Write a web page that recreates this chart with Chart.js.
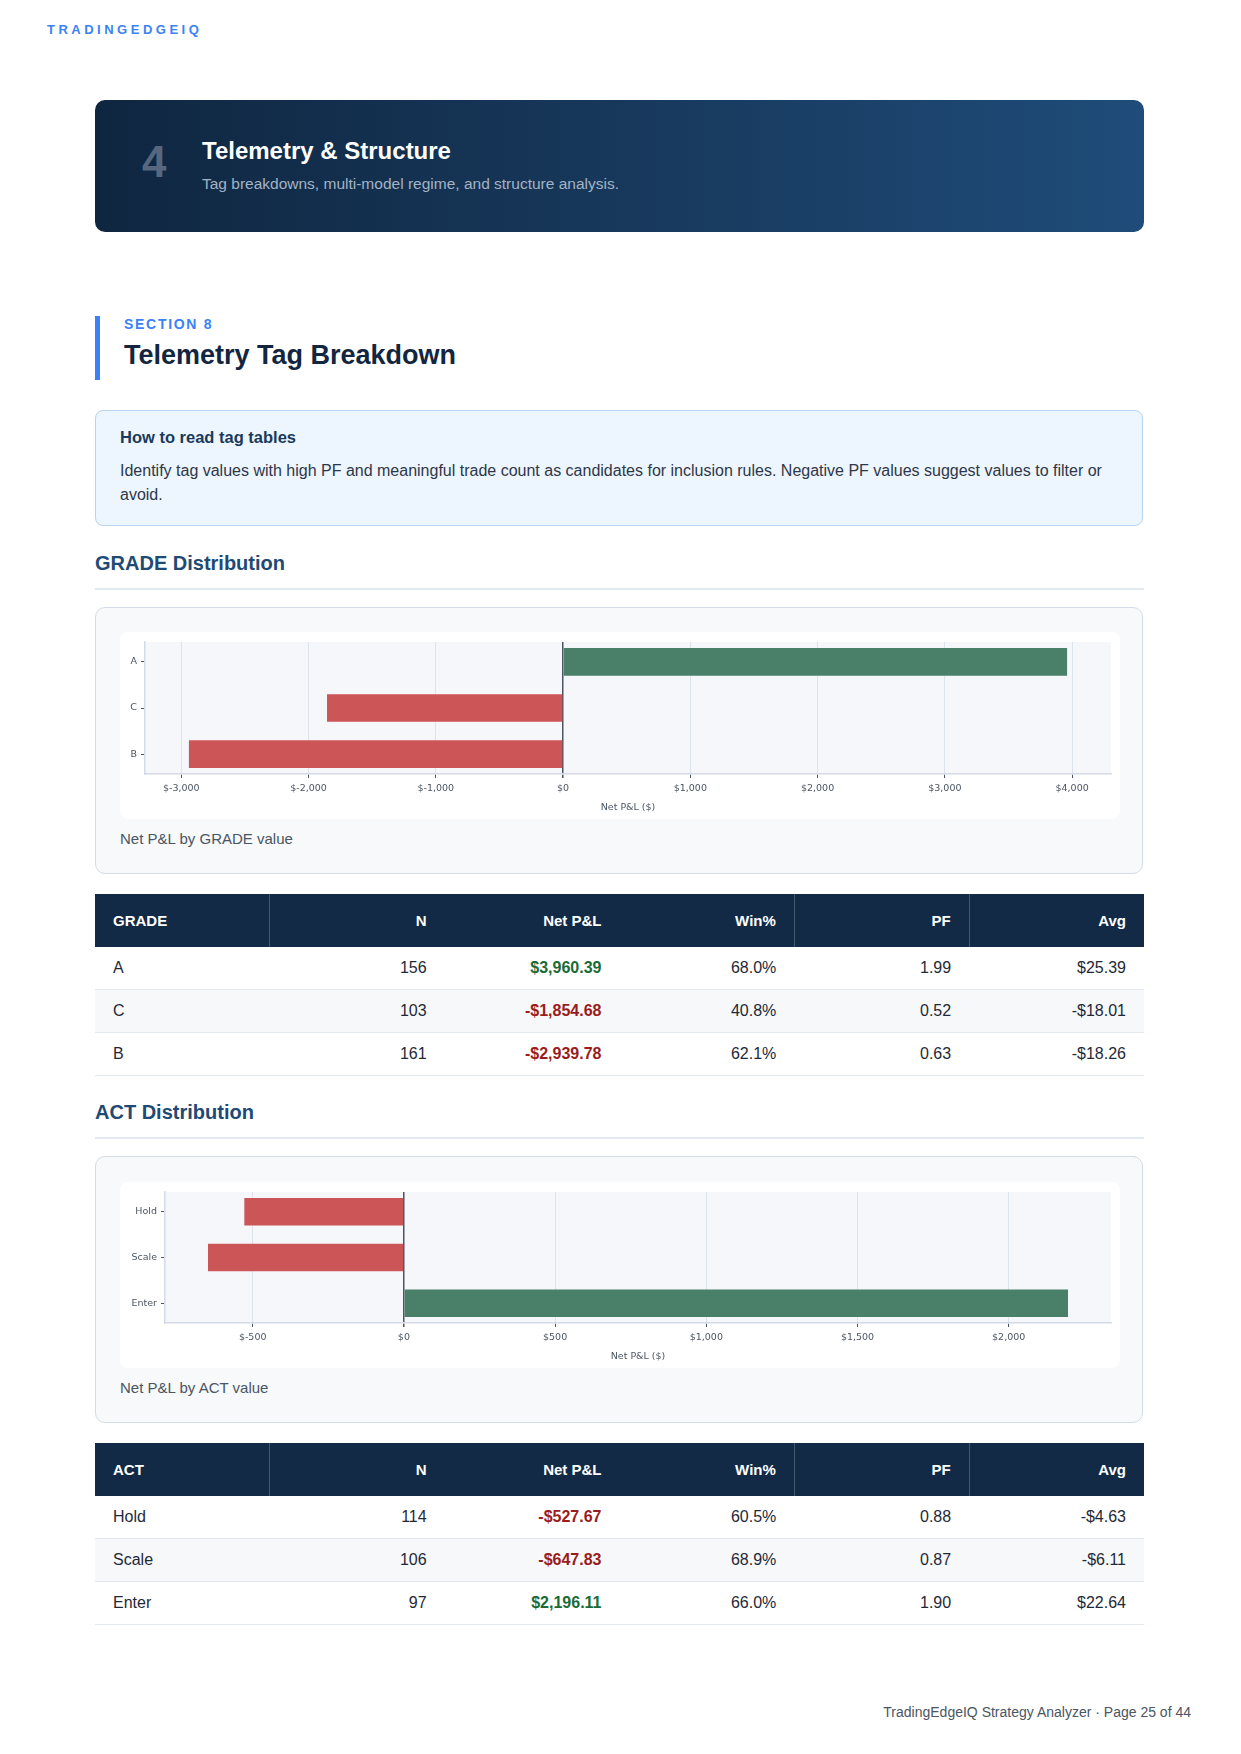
<!DOCTYPE html>
<html><head><meta charset="utf-8">
<script src="https://cdn.jsdelivr.net/npm/chart.js@4.4.1/dist/chart.umd.min.js"></script>
<style>
body{margin:0;width:1241px;height:1754px;position:relative;background:#fff;font-family:"Liberation Sans",Arial,Helvetica,sans-serif;overflow:hidden}
.abs{position:absolute;line-height:1;white-space:nowrap}
.brand{left:47px;top:22.5px;font-size:13px;font-weight:bold;letter-spacing:3.5px;color:#3b82f6}
.banner{position:absolute;left:95px;top:100px;width:1049px;height:132px;border-radius:10px;background:linear-gradient(90deg,#0f2640 0%,#183a5e 55%,#1f4c7a 100%)}
.num{left:142px;top:140px;font-size:44px;font-weight:bold;color:#56687f}
.btitle{left:202px;top:139px;font-size:24px;font-weight:bold;color:#fff}
.bsub{left:202px;top:176px;font-size:15.5px;color:#a3b3c6}
.sbar{position:absolute;left:95px;top:316px;width:5px;height:64px;background:#3b82f6}
.skick{left:124px;top:317px;font-size:14px;font-weight:bold;letter-spacing:1.7px;color:#3b82f6}
.stitle{left:124px;top:341.5px;font-size:27px;font-weight:bold;color:#132640}
.info{position:absolute;left:95px;top:410px;width:1046px;height:114px;background:#edf5fe;border:1.5px solid #b8d4f0;border-radius:8px}
.ihead{left:120px;top:429px;font-size:16.5px;font-weight:bold;color:#1a3a5c}
.ibody{position:absolute;left:120px;top:459px;width:1010px;font-size:16px;line-height:24px;color:#2d3748}
.h3{font-size:20px;font-weight:bold;color:#1e4a75}
.rule{position:absolute;left:95px;width:1049px;height:1.5px;background:#e3e9f0}
.card{position:absolute;left:95px;width:1046px;height:265px;background:#f7f9fb;border:1.5px solid #d3dce6;border-radius:10px}
.wbox{position:absolute;left:120px;width:1000px;background:#fff;border-radius:8px;overflow:hidden}
.cap{left:120px;font-size:15px;color:#4a5563}
table{position:absolute;left:95px;width:1049px;border-collapse:collapse;table-layout:fixed}
th{height:53px;padding:0 18px;background:#122a45;color:#fff;font-size:15px;font-weight:bold;text-align:right}
th:first-child{text-align:left}
th.dv{border-right:1px solid rgba(255,255,255,0.22)}
td{height:42px;padding:0 18px;font-size:16px;color:#1f2937;text-align:right;border-bottom:1.5px solid #e2e8f0}
td:first-child{text-align:left}
tr.alt td{background:#f6f8fa}
td.pos{color:#1a6b35;font-weight:bold}
td.neg{color:#9b1c1c;font-weight:bold}
.foot{right:50px;top:1705px;font-size:14px;color:#4b5563}
</style></head>
<body>
<div class="abs brand">TRADINGEDGEIQ</div>
<div class="banner"></div>
<div class="abs num">4</div>
<div class="abs btitle">Telemetry &amp; Structure</div>
<div class="abs bsub">Tag breakdowns, multi-model regime, and structure analysis.</div>

<div class="sbar"></div>
<div class="abs skick">SECTION 8</div>
<div class="abs stitle">Telemetry Tag Breakdown</div>

<div class="info"></div>
<div class="abs ihead">How to read tag tables</div>
<div class="ibody">Identify tag values with high PF and meaningful trade count as candidates for inclusion rules. Negative PF values suggest values to filter or avoid.</div>

<div class="abs h3" style="left:95px;top:553px">GRADE Distribution</div>
<div class="rule" style="top:588px"></div>
<div class="card" style="top:607px"></div>
<div class="wbox" style="top:632px;height:187px"><canvas id="c1" width="1000" height="187"></canvas></div>
<div class="abs cap" style="top:830.5px">Net P&amp;L by GRADE value</div>
<table id="t1" style="top:894px"></table>

<div class="abs h3" style="left:95px;top:1102px">ACT Distribution</div>
<div class="rule" style="top:1137px"></div>
<div class="card" style="top:1156px"></div>
<div class="wbox" style="top:1182px;height:186px"><canvas id="c2" width="1000" height="186"></canvas></div>
<div class="abs cap" style="top:1379.5px">Net P&amp;L by ACT value</div>
<table id="t2" style="top:1443px"></table>

<div class="abs foot">TradingEdgeIQ Strategy Analyzer · Page 25 of 44</div>

<script>
// ---- data ----
const gradeLabels = ['A', 'C', 'B'];
const gradeN = [156, 103, 161];
const gradeNet = [3960.39, -1854.68, -2939.78];
const gradeWin = [68.0, 40.8, 62.1];
const gradePF = [1.99, 0.52, 0.63];
const gradeAvg = [25.39, -18.01, -18.26];

const actLabels = ['Hold', 'Scale', 'Enter'];
const actN = [114, 106, 97];
const actNet = [-527.67, -647.83, 2196.11];
const actWin = [60.5, 68.9, 66.0];
const actPF = [0.88, 0.87, 1.90];
const actAvg = [-4.63, -6.11, 22.64];

const gradeTickStep = 1000;
const actTickStep = 500;

// ---- helpers ----
const GREEN = '#4a806a', RED = '#cc5557';
const BAR_HEIGHT = 0.6;
const money = v => (v < 0 ? '-$' : '$') + Math.abs(v).toLocaleString('en-US', {minimumFractionDigits: 2, maximumFractionDigits: 2});

function buildTable(id, head, labels, n, net, win, pf, avg) {
  const t = document.getElementById(id);
  let h = '<tr><th class="dv">' + head + '</th><th>N</th><th>Net P&amp;L</th><th class="dv">Win%</th><th class="dv">PF</th><th>Avg</th></tr>';
  labels.forEach((l, i) => {
    h += '<tr' + (i % 2 === 1 ? ' class="alt"' : '') + '><td>' + l + '</td><td>' + n[i] + '</td><td class="' + (net[i] >= 0 ? 'pos' : 'neg') + '">' + money(net[i]) + '</td><td>' + win[i].toFixed(1) + '%</td><td>' + pf[i].toFixed(2) + '</td><td>' + money(avg[i]) + '</td></tr>';
  });
  t.innerHTML = h;
}
buildTable('t1', 'GRADE', gradeLabels, gradeN, gradeNet, gradeWin, gradePF, gradeAvg);
buildTable('t2', 'ACT', actLabels, actN, actNet, actWin, actPF, actAvg);

const plotBg = {
  id: 'plotBg',
  beforeDraw(chart) {
    const {ctx, chartArea: a} = chart;
    ctx.save();
    ctx.fillStyle = '#f5f7fa';
    ctx.fillRect(a.left, a.top, a.right - a.left, a.bottom - a.top);
    ctx.restore();
  }
};

const tickFont = {family: 'DejaVu Sans', size: 9.5};
function makeChart(id, labels, values, step, yw) {
  const lo = Math.min(0, ...values), hi = Math.max(0, ...values);
  const m = (hi - lo) * 0.05;
  // matplotlib-like category extent: bars of height 0.6 around integer positions, 5% margin
  const yLo = -BAR_HEIGHT / 2, yHi = labels.length - 1 + BAR_HEIGHT / 2;
  const ym = (yHi - yLo) * 0.05;
  new Chart(document.getElementById(id), {
    type: 'bar',
    data: {datasets: [{
      data: values.map((v, i) => ({x: v, y: i})),
      backgroundColor: values.map(v => v >= 0 ? GREEN : RED),
      borderWidth: 0,
      barPercentage: BAR_HEIGHT,
      categoryPercentage: 1
    }]},
    options: {
      indexAxis: 'y', responsive: false, animation: false,
      layout: {padding: {top: 10, right: 9, left: 0, bottom: 0}},
      plugins: {legend: {display: false}, tooltip: {enabled: false}},
      scales: {
        x: {
          type: 'linear', min: lo - m, max: hi + m, z: 1,
          afterBuildTicks: s => {
            const t = [];
            for (let v = Math.ceil(s.min / step) * step; v <= s.max; v += step) t.push({value: v});
            s.ticks = t;
          },
          ticks: {color: '#4b5563', font: tickFont, padding: 5,
                  callback: v => '$' + Number(v).toLocaleString('en-US')},
          grid: {
            color: c => (c.tick && c.tick.value === 0) ? '#4b5563' : 'rgba(205,214,224,0.6)',
            lineWidth: c => (c.tick && c.tick.value === 0) ? 1.5 : 1,
            tickColor: '#4b5563', tickLength: 4
          },
          border: {color: '#d3dce6', width: 1.5},
          title: {display: true, text: 'Net P&L ($)', color: '#4b5563', font: tickFont, padding: {top: 3, bottom: 6}},
          afterFit: s => { s.height = 45; }
        },
        y: {
          type: 'linear', reverse: true, min: yLo - ym, max: yHi + ym, offset: false,
          afterBuildTicks: s => { s.ticks = labels.map((l, i) => ({value: i})); },
          ticks: {color: '#4b5563', font: tickFont, padding: 4, callback: v => labels[v]},
          grid: {display: true, offset: false, drawOnChartArea: false, tickColor: '#4b5563', tickLength: 4, color: '#4b5563'},
          border: {color: '#d3dce6', width: 1.5},
          afterFit: s => { s.width = yw; }
        }
      }
    },
    plugins: [plotBg]
  });
}
makeChart('c1', gradeLabels, gradeNet, gradeTickStep, 25);
makeChart('c2', actLabels, actNet, actTickStep, 45);
</script>
</body></html>
